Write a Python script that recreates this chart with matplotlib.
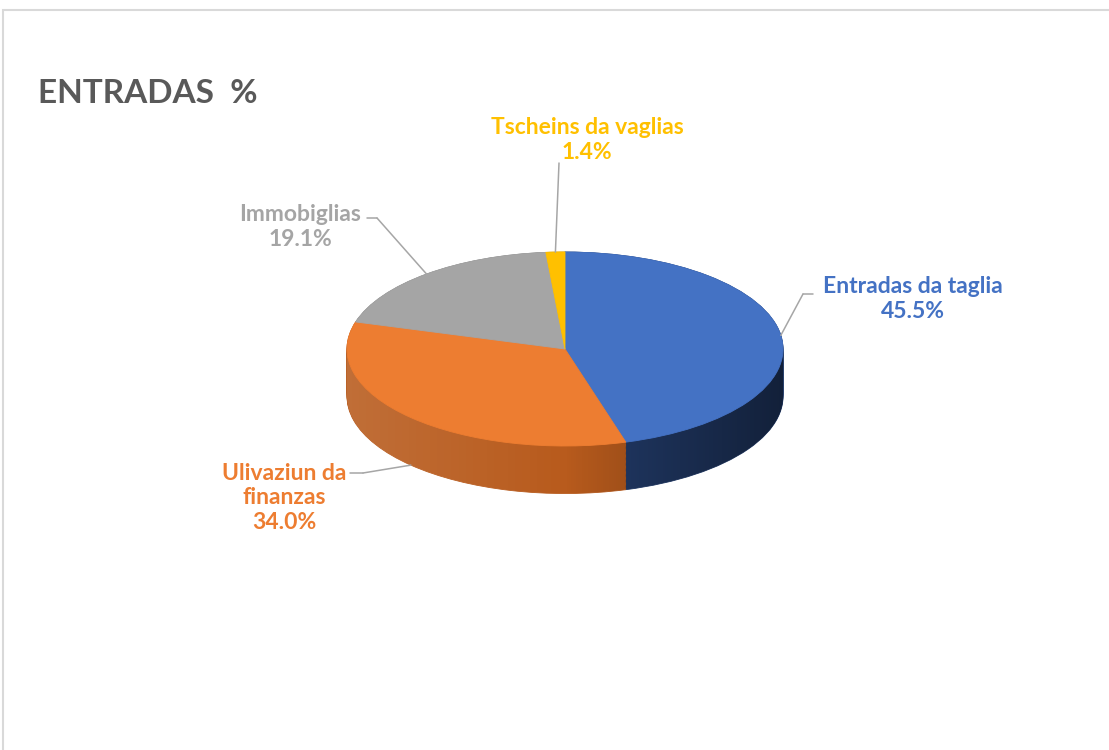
import numpy as np
import matplotlib.pyplot as plt
from matplotlib.patches import Rectangle, Polygon

# data
labels = ['Entradas da taglia', 'Ulivaziun da\nfinanzas', 'Immobiglias', 'Tscheins da vaglias']
shares = [45.5, 34.0, 19.1, 1.4]
top_colors = ['#4472C4', '#ED7D31', '#A5A5A5', '#FFC000']
side_colors = ['#223B69', '#B85B1D', '#7E7E7E', '#C29200']
title = 'ENTRADAS  %'

# label placement (figure pixels, from top) and leader elbows
label_pos = [(913, 299), (284, 498), (300, 227), (587, 140)]
elbows = [[(813, 294), (803, 294)],
          [(350, 473), (363, 473)],
          [(367, 218), (377, 218)],
          [(559, 163), (559, 163)]]

W, H = 1109, 750
fig = plt.figure(figsize=(W / 100, H / 100), dpi=100)
plt.rcParams['font.family'] = ['Lato', 'DejaVu Sans']

# pie axes: unit circle squashed to an ellipse
cx, cy, rx, ry = 565, 349, 218, 97
thick = 0.49
ax = fig.add_axes([(cx - 1.5 * rx) / W, (H - cy - 1.5 * ry) / H, 3 * rx / W, 3 * ry / H])

# side of the cake: stacked pies
for k in np.linspace(-thick, 0, 40):
    w, _ = ax.pie(shares, colors=side_colors, startangle=90, counterclock=False,
                  center=(0, k), wedgeprops=dict(linewidth=0.6))
    for p, c in zip(w, side_colors):
        p.set_edgecolor(c)
        p.set_clip_on(False)

# horizontal shading on the side
t = np.linspace(np.pi, 2 * np.pi, 200)
side_path = np.vstack([np.column_stack([np.cos(t), np.sin(t)]),
                       np.column_stack([np.cos(t[::-1]), np.sin(t[::-1]) - thick])])
clip = Polygon(side_path, closed=True, facecolor='none', edgecolor='none')
ax.add_patch(clip)
grad = np.linspace(-1, 1, 256)
shade = np.zeros((2, 256, 4))
shade[..., 3] = np.clip(0.45 * grad, 0, 0.45)[None, :]
light = np.zeros((2, 256, 4))
light[..., :3] = 1.0
light[..., 3] = np.clip(-0.12 * grad, 0, 0.12)[None, :]
for img in (shade, light):
    im = ax.imshow(img, extent=(-1, 1, -1 - thick, 0), aspect='auto', zorder=2,
                   interpolation='bilinear')
    im.set_clip_path(clip)

# top face
wedges, _ = ax.pie(shares, colors=top_colors, startangle=90, counterclock=False,
                   wedgeprops=dict(linewidth=0.6))
for p, c in zip(wedges, top_colors):
    p.set_edgecolor(c)
    p.set_clip_on(False)
    p.set_zorder(3)

ax.set_aspect('auto')
ax.set_xlim(-1.5, 1.5)
ax.set_ylim(-1.5, 1.5)
ax.axis('off')

# labels with leader lines
cum = np.cumsum([0] + shares[:-1])
line_kw = dict(arrowstyle='-', color='#A6A6A6', lw=1.1, shrinkA=0, shrinkB=0)
for lab, s, c0, col, (lx, ly), el in zip(labels, shares, cum, top_colors, label_pos, elbows):
    mid = np.deg2rad(90 - (c0 + s / 2) * 3.6)
    ax_pt = (np.cos(mid), np.sin(mid))
    if ax_pt[1] < 0:
        ax_pt = (ax_pt[0], ax_pt[1] - thick)
    fig.text(lx / W, 1 - ly / H, f'{lab}\n{s:.1f}%', color=col, fontsize=16.5,
             fontweight='bold', ha='center', va='center', linespacing=1.2)
    ax.annotate('', xy=ax_pt, xycoords='data', xytext=(el[1][0], H - el[1][1]),
                textcoords='figure pixels', arrowprops=line_kw, annotation_clip=False)
    ax.annotate('', xy=(el[0][0], H - el[0][1]), xycoords='figure pixels',
                xytext=(el[1][0], H - el[1][1]), textcoords='figure pixels',
                arrowprops=line_kw, annotation_clip=False)

fig.text(38 / W, 1 - 103 / H, title, color='#595959', fontsize=24, fontweight='bold',
         ha='left', va='baseline')

# chart frame (cut at right and bottom)
fig.patches.append(Rectangle((3 / W, -0.1), 1.2, 1.1 - 10 / H, transform=fig.transFigure,
                             fill=False, edgecolor='#D9D9D9', lw=1.5))

fig.savefig('out.png', dpi=100, facecolor='white')
